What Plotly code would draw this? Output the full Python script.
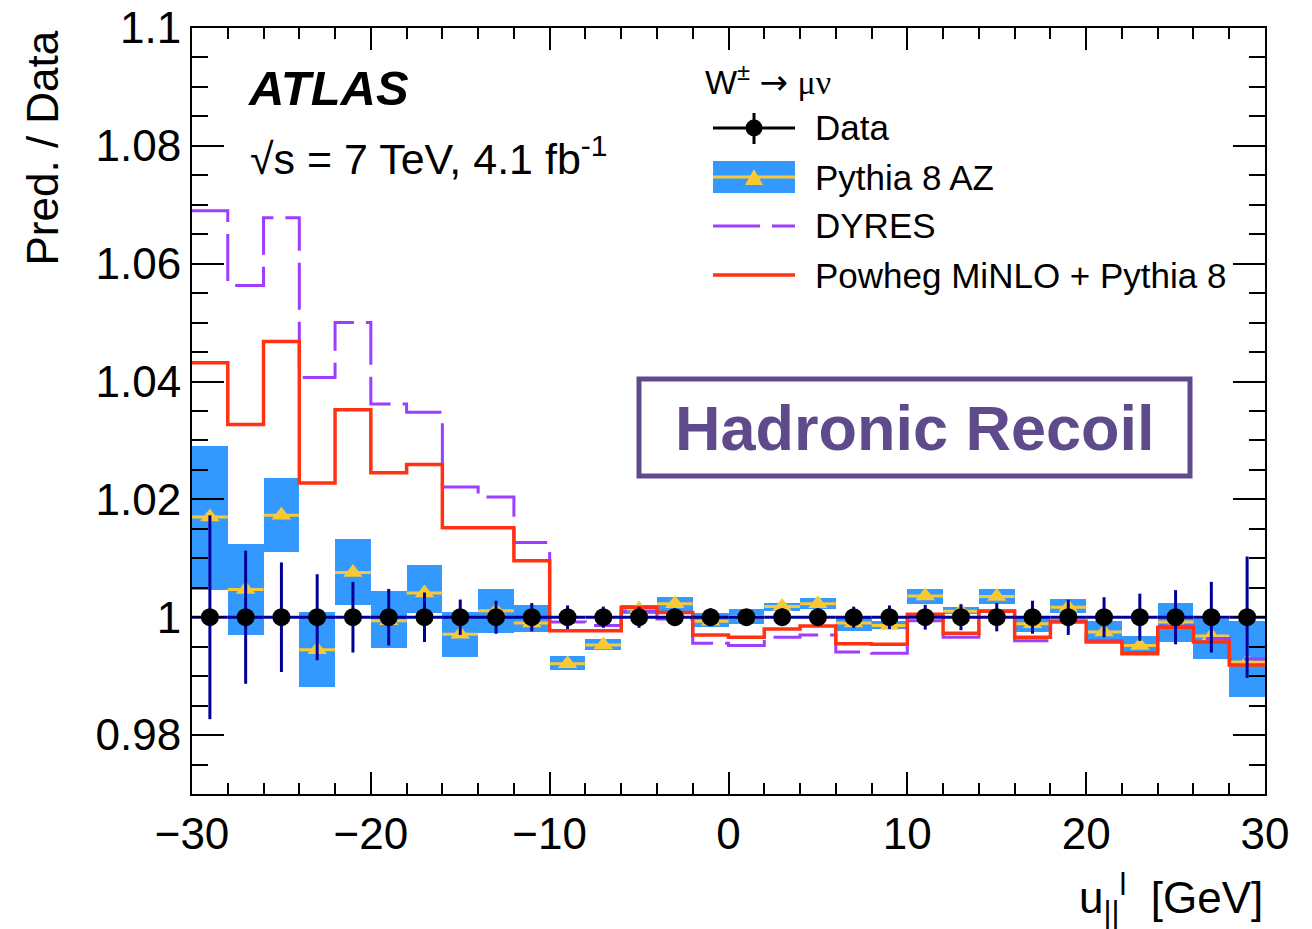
import plotly.graph_objects as go

# ---- binning: u_par^l in GeV, 2 GeV bins from -30 to 30 ----
BIN_EDGES = [-30, -28, -26, -24, -22, -20, -18, -16, -14, -12, -10, -8, -6, -4, -2, 0,
             2, 4, 6, 8, 10, 12, 14, 16, 18, 20, 22, 24, 26, 28, 30]
BIN_CENTERS = [-29, -27, -25, -23, -21, -19, -17, -15, -13, -11, -9, -7, -5, -3, -1,
               1, 3, 5, 7, 9, 11, 13, 15, 17, 19, 21, 23, 25, 27, 29]

# ---- data (ratio to itself) and its relative uncertainty ----
DATA_RATIO = [1.0, 1.0, 1.0, 1.0, 1.0, 1.0, 1.0, 1.0, 1.0, 1.0,
              1.0, 1.0, 1.0, 1.0, 1.0, 1.0, 1.0, 1.0, 1.0, 1.0,
              1.0, 1.0, 1.0, 1.0, 1.0, 1.0, 1.0, 1.0, 1.0, 1.0]
DATA_ERR = [0.0173, 0.0113, 0.0093, 0.0073, 0.0060, 0.0048, 0.0042, 0.0030, 0.0028, 0.0024,
            0.0020, 0.0018, 0.0018, 0.0015, 0.0015, 0.0013, 0.0015, 0.0015, 0.0018, 0.0020,
            0.0021, 0.0022, 0.0024, 0.0028, 0.0030, 0.0034, 0.0040, 0.0046, 0.0060, 0.0103]

# ---- Pythia 8 AZ: central ratio and uncertainty band ----
PYTHIA = [1.0170, 1.0047, 1.0173, 0.9945, 1.0076, 0.9994, 1.0041, 0.9971, 1.0011, 0.9990,
          0.9921, 0.9953, 1.0014, 1.0023, 0.9993, 1.0001, 1.0018, 1.0023, 0.9990, 0.9986,
          1.0036, 1.0010, 1.0035, 0.9989, 1.0017, 0.9975, 0.9952, 0.9992, 0.9968, 0.9924]
PYTHIA_LO = [1.0047, 0.9970, 1.0110, 0.9882, 1.0020, 0.9948, 1.0008, 0.9933, 0.9973, 0.9975,
             0.9910, 0.9945, 1.0006, 1.0010, 0.9984, 0.9989, 1.0010, 1.0014, 0.9977, 0.9980,
             1.0023, 1.0005, 1.0023, 0.9975, 1.0008, 0.9958, 0.9938, 0.9958, 0.9929, 0.9864]
PYTHIA_HI = [1.0291, 1.0124, 1.0236, 1.0009, 1.0132, 1.0044, 1.0089, 1.0009, 1.0048, 1.0020,
             0.9935, 0.9963, 1.0021, 1.0034, 1.0007, 1.0014, 1.0025, 1.0033, 1.0000, 0.9994,
             1.0048, 1.0018, 1.0048, 1.0000, 1.0031, 0.9994, 0.9969, 1.0025, 0.9997, 0.9994]

# ---- DYRES prediction ----
DYRES = [1.0690, 1.0563, 1.0678, 1.0407, 1.0500, 1.0362, 1.0348, 1.0221, 1.0204, 1.0127,
         0.9992, 0.9986, 1.0010, 0.9997, 0.9956, 0.9952, 0.9966, 0.9970, 0.9941, 0.9939,
         0.9994, 0.9966, 1.0011, 0.9960, 0.9994, 0.9960, 0.9940, 0.9985, 0.9964, 0.9929]

# ---- Powheg MiNLO + Pythia 8 prediction ----
POWHEG = [1.0432, 1.0327, 1.0468, 1.0228, 1.0352, 1.0245, 1.0259, 1.0152, 1.0152, 1.0096,
          0.9977, 0.9977, 1.0017, 1.0008, 0.9970, 0.9966, 0.9980, 0.9985, 0.9955, 0.9954,
          1.0005, 0.9973, 1.0010, 0.9966, 0.9992, 0.9958, 0.9938, 0.9983, 0.9958, 0.9919]

Y_TICKS = [0.98, 1.0, 1.02, 1.04, 1.06, 1.08, 1.1]
Y_TICK_LABELS = ["0.98", "1", "1.02", "1.04", "1.06", "1.08", "1.1"]

# ---- styling ----
FONT = "Liberation Sans, Arial, Helvetica, sans-serif"
NAVY = "#000099"
BAND_BLUE = "#3399ff"
YELLOW = "#f9c935"
VIOLET = "#9d3dff"
RED = "#ff3311"
BOX_PURPLE = "#5f4b8b"

W, H = 1312, 929
L, R, T, B = 192, 1265, 28, 794  # plot frame in page pixels


def fx(x):
    return (x - L) / (R - L)


def fy(y):
    return (B - y) / (B - T)


fig = go.Figure()

# Pythia 8 AZ uncertainty band
fig.add_trace(go.Bar(
    x=BIN_CENTERS,
    y=[h - l for h, l in zip(PYTHIA_HI, PYTHIA_LO)],
    base=PYTHIA_LO,
    width=2,
    marker=dict(color=BAND_BLUE, line=dict(width=0)),
    showlegend=False, hoverinfo="skip",
))

# Pythia 8 AZ central values
fig.add_trace(go.Scatter(
    x=BIN_CENTERS, y=PYTHIA, mode="markers",
    marker=dict(symbol="triangle-up", size=17, color=YELLOW),
    error_x=dict(type="constant", value=1, color=YELLOW, thickness=3, width=0),
    showlegend=False,
))

# DYRES (dashed histogram)
fig.add_trace(go.Scatter(
    x=BIN_EDGES, y=DYRES + DYRES[-1:], mode="lines",
    line=dict(shape="hv", color=VIOLET, width=3, dash="47px,12px"),
    showlegend=False,
))

# Powheg MiNLO + Pythia 8 (solid histogram)
fig.add_trace(go.Scatter(
    x=BIN_EDGES, y=POWHEG + POWHEG[-1:], mode="lines",
    line=dict(shape="hv", color=RED, width=3.5),
    showlegend=False,
))

# Data
fig.add_trace(go.Scatter(
    x=BIN_CENTERS, y=DATA_RATIO, mode="markers",
    marker=dict(symbol="circle", size=18, color="black"),
    error_y=dict(type="data", array=DATA_ERR, color=NAVY, thickness=3, width=0),
    error_x=dict(type="constant", value=1, color=NAVY, thickness=3, width=0),
    showlegend=False,
))

axis_common = dict(
    showline=True, linecolor="black", linewidth=2, mirror="allticks",
    ticks="inside", tickcolor="black", tickwidth=2,
    showgrid=False, zeroline=False, automargin=False,
    tickfont=dict(family=FONT, size=44, color="black"),
)

fig.update_xaxes(
    range=[-30, 30], tickmode="linear", tick0=-30, dtick=10, ticklen=22,
    minor=dict(tickmode="linear", tick0=-30, dtick=2, ticks="inside", ticklen=11,
               tickwidth=2, tickcolor="black"),
    **axis_common,
)
fig.update_yaxes(
    range=[0.97, 1.1], tickmode="array", tickvals=Y_TICKS, ticktext=Y_TICK_LABELS,
    ticklen=32,
    minor=dict(tickmode="linear", tick0=0.97, dtick=0.005, ticks="inside", ticklen=16,
               tickwidth=2, tickcolor="black"),
    **axis_common,
)

shapes = []
annotations = []

# "Hadronic Recoil" label box
shapes.append(dict(type="rect", xref="paper", yref="paper",
                   x0=fx(639), x1=fx(1190), y0=fy(379), y1=fy(476),
                   line=dict(color=BOX_PURPLE, width=5), fillcolor="white", layer="above"))
annotations.append(dict(text="<b>Hadronic Recoil</b>", xref="paper", yref="paper",
                        x=fx(915), y=fy(428), xanchor="center", yanchor="middle",
                        showarrow=False, font=dict(family=FONT, size=63, color=BOX_PURPLE)))

# Experiment label
annotations.append(dict(text="<b><i>ATLAS</i></b>", xref="paper", yref="paper",
                        x=fx(246), y=fy(88), xanchor="left", yanchor="middle",
                        showarrow=False, font=dict(family=FONT, size=49, color="black")))
annotations.append(dict(text="√s = 7 TeV, 4.1 fb<sup>-1</sup>", xref="paper", yref="paper",
                        x=fx(248), y=fy(156), xanchor="left", yanchor="middle",
                        showarrow=False, font=dict(family=FONT, size=43, color="black")))

# Legend header and entries
LEG_SYM_X0, LEG_SYM_X1, LEG_TEXT_X = 713, 795, 813
annotations.append(dict(
    text="W<sup>±</sup> <span style='font-family:DejaVu Sans'>→</span> "
         "<span style='font-family:Liberation Serif'>μν</span>",
    xref="paper", yref="paper", x=fx(703), y=fy(80),
    xanchor="left", yanchor="middle", showarrow=False,
    font=dict(family=FONT, size=34, color="black")))

leg_rows = [("Data", 128), ("Pythia 8 AZ", 177), ("DYRES", 226), ("Powheg MiNLO + Pythia 8", 275)]
for label, yy in leg_rows:
    annotations.append(dict(text=label, xref="paper", yref="paper", x=fx(LEG_TEXT_X), y=fy(yy),
                            xanchor="left", yanchor="middle", showarrow=False,
                            font=dict(family=FONT, size=35, color="black")))

xc = (LEG_SYM_X0 + LEG_SYM_X1) / 2
# Data symbol
shapes.append(dict(type="line", xref="paper", yref="paper", x0=fx(LEG_SYM_X0), x1=fx(LEG_SYM_X1),
                   y0=fy(128), y1=fy(128), line=dict(color="black", width=3)))
shapes.append(dict(type="line", xref="paper", yref="paper", x0=fx(xc), x1=fx(xc),
                   y0=fy(113), y1=fy(144), line=dict(color="black", width=3)))
shapes.append(dict(type="circle", xref="paper", yref="paper", x0=fx(xc - 8.5), x1=fx(xc + 8.5),
                   y0=fy(119.5), y1=fy(136.5), fillcolor="black", line=dict(color="black", width=0)))
# Pythia symbol
shapes.append(dict(type="rect", xref="paper", yref="paper", x0=fx(LEG_SYM_X0), x1=fx(LEG_SYM_X1),
                   y0=fy(161), y1=fy(193), fillcolor=BAND_BLUE, line=dict(width=0)))
shapes.append(dict(type="line", xref="paper", yref="paper", x0=fx(LEG_SYM_X0), x1=fx(LEG_SYM_X1),
                   y0=fy(177), y1=fy(177), line=dict(color=YELLOW, width=3)))
shapes.append(dict(type="path", xref="paper", yref="paper",
                   path=f"M {fx(xc - 9)} {fy(185)} L {fx(xc + 9)} {fy(185)} L {fx(xc)} {fy(169)} Z",
                   fillcolor=YELLOW, line=dict(width=0)))
# DYRES symbol
shapes.append(dict(type="line", xref="paper", yref="paper", x0=fx(LEG_SYM_X0), x1=fx(LEG_SYM_X1),
                   y0=fy(226), y1=fy(226), line=dict(color=VIOLET, width=3, dash="47px,12px")))
# Powheg symbol
shapes.append(dict(type="line", xref="paper", yref="paper", x0=fx(LEG_SYM_X0), x1=fx(LEG_SYM_X1),
                   y0=fy(275), y1=fy(275), line=dict(color=RED, width=3.5)))

# Axis titles
annotations.append(dict(text="Pred. / Data", xref="paper", yref="paper",
                        x=fx(42), y=fy(29), xanchor="center", yanchor="top", textangle=-90,
                        showarrow=False, font=dict(family=FONT, size=44, color="black")))
annotations.append(dict(text="u<sub>||</sub><sup>l</sup>  [GeV]", xref="paper", yref="paper",
                        x=1.0, y=fy(898), xanchor="right", yanchor="middle",
                        showarrow=False, font=dict(family=FONT, size=44, color="black")))

fig.update_layout(
    width=W, height=H, autosize=False,
    margin=dict(l=L, r=W - R, t=T, b=H - B, pad=0, autoexpand=False),
    paper_bgcolor="white", plot_bgcolor="white",
    showlegend=False,
    bargap=0,
    shapes=shapes,
    annotations=annotations,
    font=dict(family=FONT, color="black"),
)

fig.write_html("out.html")
